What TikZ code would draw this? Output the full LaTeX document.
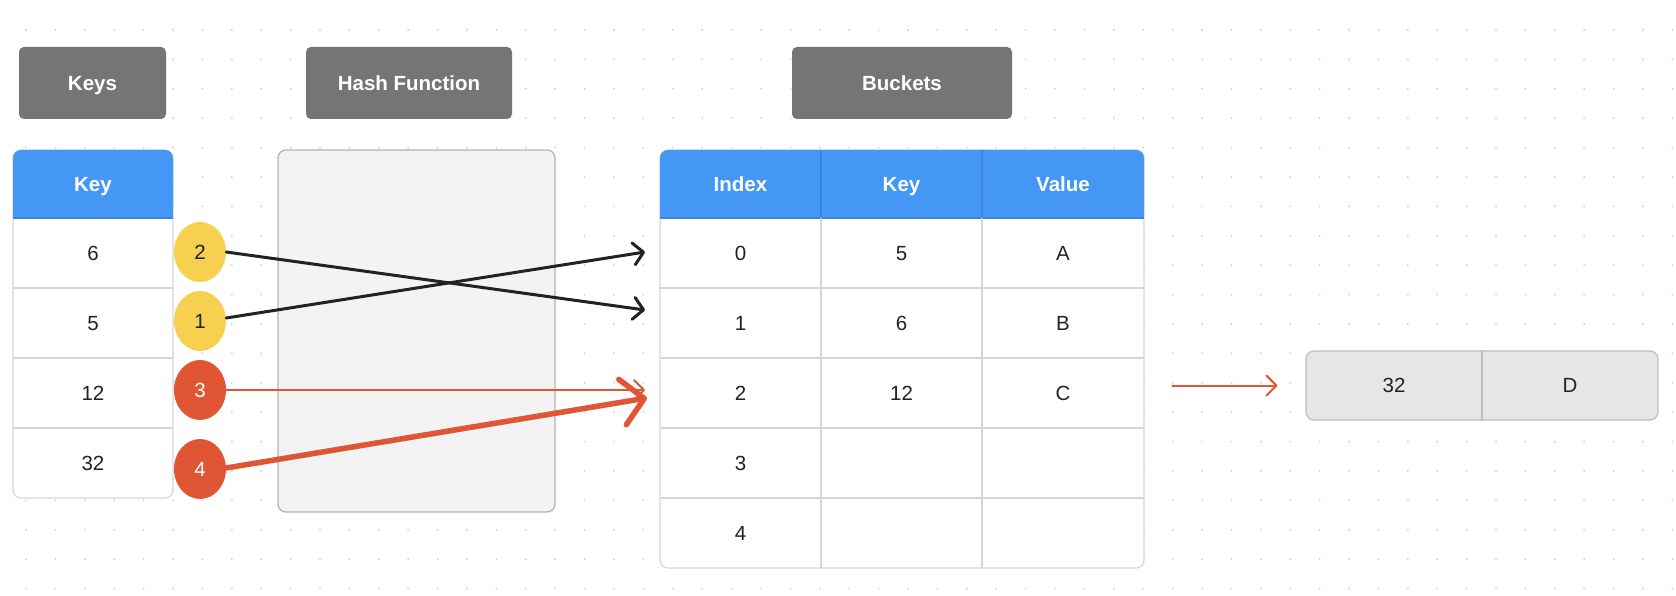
\documentclass[tikz,border=0pt]{standalone}
\usepackage{fontspec}
\setmainfont{Liberation Sans}
\usetikzlibrary{arrows.meta,shapes.geometric}
\definecolor{hdrgray}{HTML}{757575}
\definecolor{hblue}{HTML}{4597F6}
\definecolor{hblued}{HTML}{3A84DE}
\definecolor{gridc}{HTML}{D6D6D6}
\definecolor{dotc}{HTML}{D3D3D3}
\definecolor{txt}{HTML}{222222}
\definecolor{ylw}{HTML}{F6D04E}
\definecolor{rd}{HTML}{E05533}
\definecolor{hashf}{HTML}{F3F3F3}
\definecolor{hashb}{HTML}{B4B4B4}
\definecolor{boxf}{HTML}{E6E6E6}
\definecolor{boxb}{HTML}{BEBEBE}
\tikzset{
  fnt/.style={font=\fontsize{20.5}{24}\selectfont, text height=14.7pt, text depth=0pt},
  bfnt/.style={font=\bfseries\fontsize{20.5}{24}\selectfont, text height=14.7pt, text depth=0pt},
  lbl/.style={bfnt, fill=hdrgray, rounded corners=5pt, text=white, inner sep=0pt,
    minimum height=72pt},
  hdtext/.style={bfnt, text=white, inner sep=0pt},
  celltext/.style={fnt, text=txt, inner sep=0pt},
  bubble/.style={fnt, ellipse, minimum width=52pt, minimum height=60pt, inner sep=0pt},
  ybub/.style={bubble, fill=ylw, text=txt},
  rbub/.style={bubble, fill=rd, text=white},
  blkarrow/.style={draw=txt, line width=3pt, line cap=round,
    -{Straight Barb[length=10pt,width=22pt,round]}},
  thinred/.style={draw=rd, line width=2pt, line cap=round,
    -{Straight Barb[length=10pt,width=20pt,round]}},
  thickred/.style={draw=rd, line width=5.5pt, line cap=round,
    -{Straight Barb[length=22pt,width=46pt,round]}},
  gline/.style={draw=gridc, line width=1.2pt},
}
\begin{document}
\begin{tikzpicture}[x=1pt,y=-1pt]
\useasboundingbox (0,0) rectangle (1676,596);
\fill[white] (0,0) rectangle (1676,596);
% dot grid
\foreach \i in {0,...,56} {
  \foreach \j in {0,...,19} {
    \fill[dotc] ({26+29.4*\i},{30+29.4*\j}) circle (1.1pt);
  }
}
% title labels
\node[lbl, minimum width=147pt] (lblKeys) at (92.5,83) {Keys};
\node[lbl, minimum width=206pt] (lblHash) at (409,83) {Hash Function};
\node[lbl, minimum width=220pt] (lblBuckets) at (902,83) {Buckets};

% hash function box
\node[draw=hashb, fill=hashf, line width=1.3pt, rounded corners=8pt,
  minimum width=277pt, minimum height=362pt, inner sep=0pt] (hash) at (416.5,331) {};

% key table
\filldraw[fill=white, draw=gridc, line width=1.2pt, rounded corners=8pt] (13,150) rectangle (173,498);
\fill[hblue, rounded corners=8pt] (13,150) rectangle (173,218);
\fill[hblue] (13,190) rectangle (173,218);
\draw[hblued, line width=1.2pt] (13,218) -- (173,218);
\foreach \yy in {288,358,428} \draw[gline] (13,\yy) -- (173,\yy);
\node[hdtext] (kh) at (93,184) {Key};
\node[celltext] (k1) at (93,253) {6};
\node[celltext] (k2) at (93,323) {5};
\node[celltext] (k3) at (93,393) {12};
\node[celltext] (k4) at (93,463) {32};

% buckets table
\filldraw[fill=white, draw=gridc, line width=1.2pt, rounded corners=8pt] (660,150) rectangle (1144,568);
\fill[hblue, rounded corners=8pt] (660,150) rectangle (1144,218);
\fill[hblue] (660,190) rectangle (1144,218);
\draw[hblued, line width=1.2pt] (660,218) -- (1144,218);
\foreach \xx in {821,982} {
  \draw[hblued, line width=1.2pt] (\xx,150) -- (\xx,218);
  \draw[gline] (\xx,218) -- (\xx,568);
}
\foreach \yy in {288,358,428,498} \draw[gline] (660,\yy) -- (1144,\yy);
\node[hdtext] (bhI) at (740.5,184) {Index};
\node[hdtext] (bhK) at (901.5,184) {Key};
\node[hdtext] (bhV) at (1063,184) {Value};
\node[celltext] (b0) at (740.5,253) {0};
\node[celltext] (b1) at (740.5,323) {1};
\node[celltext] (b2) at (740.5,393) {2};
\node[celltext] (b3) at (740.5,463) {3};
\node[celltext] (b4) at (740.5,533) {4};
\node[celltext] (bk0) at (901.5,253) {5};
\node[celltext] (bk1) at (901.5,323) {6};
\node[celltext] (bk2) at (901.5,393) {12};
\node[celltext] (bv0) at (1063,253) {A};
\node[celltext] (bv1) at (1063,323) {B};
\node[celltext] (bv2) at (1063,393) {C};

% overflow box
\node[draw=boxb, fill=boxf, line width=1.2pt, rounded corners=8pt,
  minimum width=352pt, minimum height=69pt, inner sep=0pt] (ov) at (1482,385.5) {};
\draw[boxb, line width=1.2pt] (ov.north) -- (ov.south);
\node[celltext] (ov1) at (1394,385.5) {32};
\node[celltext] (ov2) at (1570,385.5) {D};

% bubbles
\node[ybub] (c2) at (200,252) {2};
\node[ybub] (c1) at (200,321) {1};
\node[rbub] (c3) at (200,390) {3};
\node[rbub] (c4) at (200,469) {4};

% arrow targets
\coordinate (t0) at (645,252);
\coordinate (t1) at (645,310);
\coordinate (t2a) at (645,390);
\coordinate (t2b) at (647,398);
\coordinate (src) at ([xshift=-133pt]ov.west);

\draw[blkarrow] (c2.east) -- (t1);
\draw[blkarrow] ([yshift=3pt]c1.east) -- (t0);
\draw[thinred] (c3.east) -- (t2a);
\draw[thickred] ([yshift=1pt]c4.east) -- (t2b);
\draw[thinred] (src) -- ([xshift=-28pt]ov.west);
\end{tikzpicture}
\end{document}
